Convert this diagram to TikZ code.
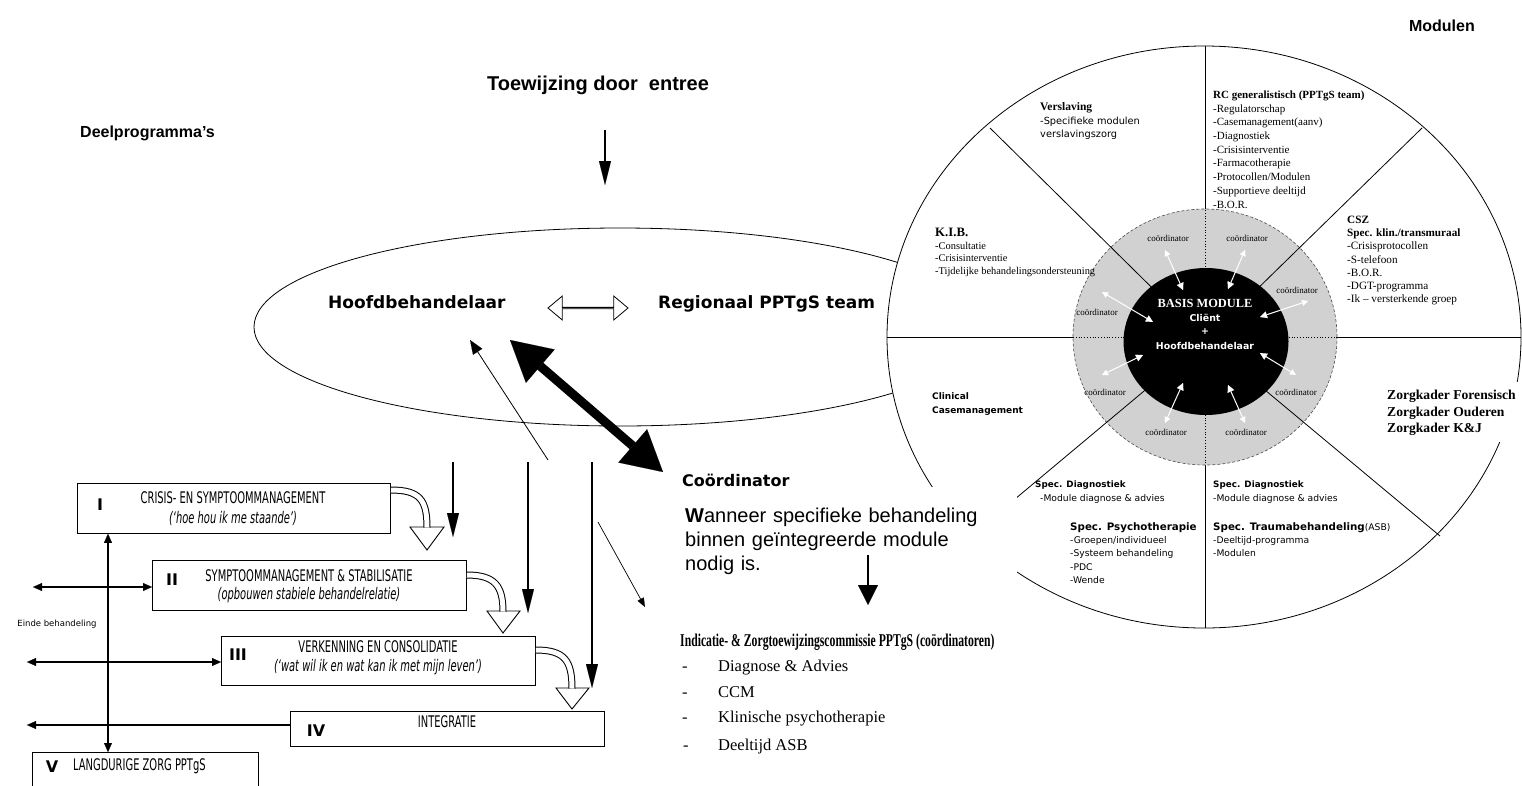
\documentclass[tikz,border=0pt]{standalone}
\usepackage{fontspec}
\setmainfont{Liberation Serif}
\newfontfamily\arialf{Liberation Sans}
\newfontfamily\tahf{DejaVu Sans}
\newfontfamily\narf[FakeStretch=0.62]{DejaVu Sans}
\newfontfamily\indicf[FakeStretch=0.65]{Liberation Serif}
\usetikzlibrary{arrows.meta,shapes.arrows}
\newcommand{\myfs}[2]{\fontsize{#1}{#2}\selectfont}
\begin{document}
\begin{tikzpicture}[x=1pt,y=-1pt,
  boxst/.style={draw,line width=0.8pt,fill=white,anchor=north west,inner sep=0pt},
  blackarr/.style={line width=1.4pt,-{Triangle[length=24pt,width=12pt,line width=0.1pt]}},
  endarr/.style={line width=1.1pt,{Triangle[length=9pt,width=8pt,line width=0.1pt]}-{Triangle[length=9pt,width=8pt,line width=0.1pt]}},
  endarrL/.style={line width=1.1pt,{Triangle[length=9pt,width=8pt,line width=0.1pt]}-},
  ringarr/.style={white,line width=1pt,{Triangle[length=6pt,width=6pt,line width=0.1pt]}-{Triangle[length=7pt,width=7pt,line width=0.1pt]}},
  coordlbl/.style={font=\myfs{9}{10},inner sep=0pt},
  hollow/.style={double=white,double distance=5pt,line width=1pt,line cap=butt},
  hhead/.style={draw,fill=white,line width=0.9pt},
  bt/.style={font=\narf\myfs{16}{19},inner sep=0pt},
  bti/.style={font=\narf\itshape\myfs{16}{19},inner sep=0pt},
  rn/.style={font=\tahf\bfseries\myfs{16}{19},inner sep=0pt},
  sect/.style={anchor=north west,inner sep=0pt,align=left},
  listtxt/.style={anchor=base west,inner sep=0pt,font=\myfs{16.5}{19}},
]
\useasboundingbox (0,0) rectangle (1522,785);
\fill[white] (0,0) rectangle (1522,785);

% headings
\node[anchor=base east,inner sep=0pt,font=\arialf\bfseries\myfs{16}{18}] (modulen) at (1475,31) {Modulen};
\node[anchor=base,inner sep=0pt,font=\arialf\bfseries\myfs{20}{22}] (toew) at (598,90) {Toewijzing door\ \ entree};
\node[anchor=base west,inner sep=0pt,font=\arialf\bfseries\myfs{16}{18}] (deel) at (80,137) {Deelprogramma’s};
\coordinate (toewA) at (605,130);
\coordinate (toewB) at (605,185);
\draw[blackarr] (toewA) -- (toewB);

% big ellipse
\draw[line width=0.8pt] (620,327) ellipse [x radius=366pt, y radius=99pt];
\node[anchor=base west,inner sep=0pt,font=\tahf\bfseries\myfs{17}{19}] (hoofd) at (328,308) {Hoofdbehandelaar};
\node[anchor=base west,inner sep=0pt,font=\tahf\bfseries\myfs{17}{19}] (regio) at (658,308) {Regionaal PPTgS team};
\node[double arrow,draw,fill=white,line width=0.8pt,minimum height=80pt,minimum width=24pt,
      double arrow head extend=7pt,double arrow tip angle=80,inner sep=0pt] (hd) at (588,308) {};

% big circle
\draw[fill=white,line width=0.8pt] (1204,337) ellipse [x radius=317pt, y radius=291pt];
\draw[line width=0.8pt] (1205,46) -- (1205,210) (1205,465) -- (1205,628)
      (887,337) -- (1073,337) (1337,337) -- (1521,337);
\draw[fill=black!18,draw=black!70,densely dashed,line width=0.6pt] (1205,337) ellipse [x radius=132pt, y radius=128pt];
\draw[line width=0.8pt] (1205,340) -- (990,128) (1205,340) -- (1422,128)
      (1205,340) -- (972,535) (1205,340) -- (1440,536);
\draw[dotted,line width=0.8pt] (1205,210) -- (1205,270) (1205,412) -- (1205,465)
      (1073,337) -- (1125,337) (1286,337) -- (1337,337);
\fill[black] (1206,341.5) ellipse [x radius=82.5pt, y radius=73.5pt];

\draw[ringarr] (1165,250) -- (1183,290);
\draw[ringarr] (1245,250) -- (1228,289);
\draw[ringarr] (1308,301) -- (1260,317);
\draw[ringarr] (1102,292) -- (1153,322);
\draw[ringarr] (1102,375) -- (1143,355);
\draw[ringarr] (1296,375) -- (1260,353);
\draw[ringarr] (1165,423) -- (1183,383);
\draw[ringarr] (1245,423) -- (1228,385);

\node[coordlbl] (c1) at (1168,238) {coördinator};
\node[coordlbl] (c2) at (1247,238) {coördinator};
\node[coordlbl] (c3) at (1297,290) {coördinator};
\node[coordlbl] (c4) at (1097,312) {coördinator};
\node[coordlbl] (c5) at (1105,392) {coördinator};
\node[coordlbl] (c6) at (1296,392) {coördinator};
\node[coordlbl] (c7) at (1166,432) {coördinator};
\node[coordlbl] (c8) at (1246,432) {coördinator};

\node[inner sep=0pt,text=white,font=\bfseries\myfs{12.4}{14}] (basis) at (1205,303) {BASIS MODULE};
\node[inner sep=0pt,text=white,font=\tahf\bfseries\myfs{9.4}{11}] (client) at (1205,318) {Cliënt};
\node[inner sep=0pt,text=white,font=\tahf\bfseries\myfs{9.4}{11}] (plus) at (1205,332) {+};
\node[inner sep=0pt,text=white,font=\tahf\bfseries\myfs{9.4}{11}] (hb2) at (1205,346) {Hoofdbehandelaar};

% sector texts
\node[sect,font=\myfs{11}{13.7}] (rc) at (1213,88.7) {\strut\textbf{RC generalistisch (PPTgS team)}\\-Regulatorschap\\-Casemanagement(aanv)\\-Diagnostiek\\-Crisisinterventie\\-Farmacotherapie\\-Protocollen/Modulen\\-Supportieve deeltijd\\-B.O.R.};
\node[sect,font=\myfs{11.5}{13.5}] (versl) at (1040,101) {\strut\textbf{Verslaving}\\{\tahf\myfs{9.8}{13.5}-Specifieke modulen}\\{\tahf\myfs{9.8}{13.5}verslavingszorg}};
\node[sect,font=\myfs{10.4}{12.4}] (kib) at (935,228) {\strut{\myfs{12.8}{12.4}\textbf{K.I.B.}}\\-Consultatie\\-Crisisinterventie\\-Tijdelijke behandelingsondersteuning};
\node[sect,font=\myfs{11.2}{13.2}] (csz) at (1347,214) {\strut\textbf{CSZ}\\\textbf{Spec. klin./transmuraal}\\-Crisisprotocollen\\-S-telefoon\\-B.O.R.\\-DGT-programma\\-Ik – versterkende groep};
\node[sect,font=\tahf\bfseries\myfs{9}{14}] (ccm) at (932,389) {\strut Clinical\\Casemanagement};
\node[anchor=base west,inner sep=0pt,font=\tahf\bfseries\myfs{8.8}{10}] (sd1) at (1035,487) {Spec. Diagnostiek};
\node[anchor=base west,inner sep=0pt,font=\tahf\myfs{9.2}{10}] (sd1b) at (1040,501) {-Module diagnose \& advies};
\node[sect,font=\tahf\myfs{9.2}{13.3}] (sp) at (1070,520.7) {\strut{\bfseries\myfs{10.3}{13.3}Spec. Psychotherapie}\\-Groepen/individueel\\-Systeem behandeling\\-PDC\\-Wende};
\node[anchor=base west,inner sep=0pt,font=\tahf\bfseries\myfs{8.8}{10}] (sd2) at (1213,487) {Spec. Diagnostiek};
\node[anchor=base west,inner sep=0pt,font=\tahf\myfs{9.2}{10}] (sd2b) at (1213,501) {-Module diagnose \& advies};
\node[sect,font=\tahf\myfs{9.2}{13}] (st) at (1213,520.7) {\strut{\bfseries\myfs{10.3}{13}Spec. Traumabehandeling}(ASB)\\-Deeltijd-programma\\-Modulen};
\node[sect,fill=white,inner xsep=4pt,inner ysep=6pt,font=\bfseries\myfs{13.6}{16.5}] (zk) at (1383,382) {\strut Zorgkader Forensisch\\Zorgkader Ouderen\\Zorgkader K\&J};

% coordinator text
\node[anchor=base west,inner sep=0pt,font=\tahf\bfseries\myfs{16}{18}] (coord) at (682,486) {Coördinator};
\node[anchor=north west,fill=white,inner xsep=5pt,inner ysep=0pt,text width=327pt,align=left,
      font=\arialf\myfs{20}{24}] (wann) at (680,487)
      {\rule{0pt}{35pt}\textbf{W}anneer specifieke behandeling\\binnen geïntegreerde module\\nodig is.};
\coordinate (wA) at (868,555);
\coordinate (wB) at (868,605);
\draw[line width=1.5pt,-{Triangle[length=20pt,width=20pt,line width=0.1pt]}] (wA) -- (wB);

\node[anchor=base west,inner sep=0pt,font=\indicf\bfseries\myfs{18}{20}] (indic) at (680,646) {Indicatie- \& Zorgtoewijzingscommissie PPTgS (coördinatoren)};
\node[listtxt] (d1) at (682,671) {-};
\node[listtxt] (l1) at (718,671) {Diagnose \& Advies};
\node[listtxt] (d2) at (682,697) {-};
\node[listtxt] (l2) at (718,697) {CCM};
\node[listtxt] (d3) at (682,722) {-};
\node[listtxt] (l3) at (718,722) {Klinische psychotherapie};
\node[listtxt] (d4) at (683,750) {-};
\node[listtxt] (l4) at (718,750) {Deeltijd ASB};

% arrows between ellipse and coordinator
\coordinate (tk1) at (510,340);
\coordinate (tk2) at (663,472);
\draw[line width=9pt,{Triangle[length=40pt,width=44pt,line width=0.1pt]}-{Triangle[length=40pt,width=44pt,line width=0.1pt]}] (tk1) -- (tk2);
\coordinate (thA) at (548,460);
\coordinate (thB) at (470,340);
\draw[line width=0.8pt,-{Triangle[length=14pt,width=11pt,line width=0.1pt]}] (thA) -- (thB);
\coordinate (dgA) at (598,522);
\coordinate (dgB) at (645,607);
\draw[line width=0.7pt,-{Triangle[length=9pt,width=7pt,line width=0.1pt]}] (dgA) -- (dgB);
\coordinate (v1a) at (453,462); \coordinate (v1b) at (453,537);
\coordinate (v2a) at (528,462); \coordinate (v2b) at (528,613);
\coordinate (v3a) at (592,462); \coordinate (v3b) at (592,688);
\draw[blackarr] (v1a) -- (v1b);
\draw[blackarr] (v2a) -- (v2b);
\draw[blackarr] (v3a) -- (v3b);

% left boxes
\node[boxst,minimum width=313pt,minimum height=50pt] (b1) at (77,483) {};
\node[boxst,minimum width=314pt,minimum height=50pt] (b2) at (152,560) {};
\node[boxst,minimum width=314pt,minimum height=49pt] (b3) at (221,636) {};
\node[boxst,minimum width=314pt,minimum height=35pt] (b4) at (290,711) {};
\node[boxst,minimum width=226pt,minimum height=40pt] (b5) at (32,752) {};

\node[bt] (b1a) at (233,498) {CRISIS- EN SYMPTOOMMANAGEMENT};
\node[bti] (b1b) at (233,518) {(‘hoe hou ik me staande’)};
\node[bt] (b2a) at (309,576) {SYMPTOOMMANAGEMENT \& STABILISATIE};
\node[bti] (b2b) at (309,595) {(opbouwen stabiele behandelrelatie)};
\node[bt] (b3a) at (378,647) {VERKENNING EN CONSOLIDATIE};
\node[bti] (b3b) at (378,667) {(‘wat wil ik en wat kan ik met mijn leven’)};
\node[bt] (b4a) at (447,722) {INTEGRATIE};
\node[bt,anchor=west] (b5a) at (73,766) {LANGDURIGE ZORG PPTgS};
\node[rn] (n1) at (100,505) {I};
\node[rn] (n2) at (172,580) {II};
\node[rn] (n3) at (238,655) {III};
\node[rn] (n4) at (316,731) {IV};
\node[rn] (n5) at (52,767) {V};
\node[inner sep=0pt,font=\tahf\myfs{8.5}{10}] (einde) at (57,624) {Einde behandeling};

\coordinate (vx) at (108,0);
\draw[endarr] (vx |- b1.south) -- (vx |- b5.north);
\coordinate (e2) at (33,587);
\draw[endarr] (e2) -- (e2 -| b2.west);
\coordinate (e3) at (27,662);
\draw[endarr] (e3) -- (e3 -| b3.west);
\coordinate (e4) at (27,725);
\draw[endarrL] (e4) -- (e4 -| b4.west);

% hollow curved arrows
\draw[hhead] (410,527) -- (444,527) -- (427,550) -- cycle;
\draw[hollow] (b1.east |- 0,490) .. controls (420,490) and (427,500) .. (427,527.6);
\draw[hhead] (487,611) -- (520,611) -- (503,633) -- cycle;
\draw[hollow] (b2.east |- 0,575) .. controls (495,575) and (503,586) .. (503,611.6);
\draw[hhead] (556,688) -- (589,688) -- (572,709) -- cycle;
\draw[hollow] (b3.east |- 0,650) .. controls (565,650) and (572,661) .. (572,688.6);
\end{tikzpicture}
\end{document}
